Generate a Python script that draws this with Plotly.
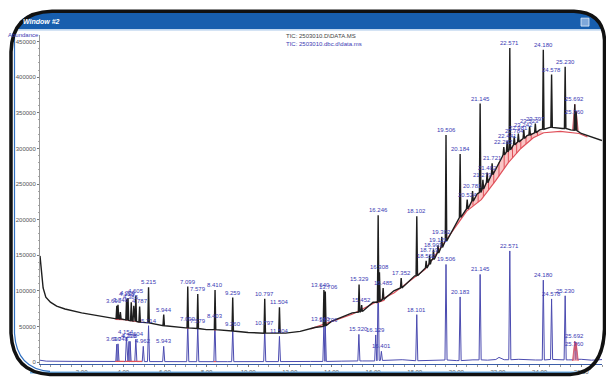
import plotly.graph_objects as go

# ---------------- figure geometry ----------------
W, H = 606, 379
ML, MR, MT, MB = 40, 4, 35, 12
PW, PH = W - ML - MR, H - MT - MB

# ---------------- axis ticks ----------------
x_ticks = [2, 4, 6, 8, 10, 12, 14, 16, 18, 20, 22, 24, 26]
x_tick_text = ["2.00", "4.00", "6.00", "8.00", "10.00", "12.00", "14.00",
               "16.00", "18.00", "20.00", "22.00", "24.00", "26.00"]
y_ticks = [0, 50000, 100000, 150000, 200000, 250000, 300000, 350000, 400000, 450000]
y_tick_text = ["0", "50000", "100000", "150000", "200000", "250000",
               "300000", "350000", "400000", "450000"]

# ---------------- TIC: 2503010.D\DATA.MS (raw) ----------------
base_time = [0.0, 0.06, 0.15, 0.28, 0.5, 0.8, 1.2, 2.0, 2.8, 3.6, 4.8, 6.0, 7.0,
             8.0, 9.0, 10.0, 11.0, 11.8, 12.5, 13.2, 14.0, 15.0, 16.0, 17.0, 18.0,
             18.8, 19.5, 20.2, 21.0, 21.6, 22.2, 22.8, 23.4, 24.0, 24.5, 25.1,
             25.5, 26.0, 26.5, 27.0]
base_abund = [149000, 128000, 104000, 91000, 84000, 78500, 74500, 69000, 64500,
              61000, 55500, 51000, 48000, 45500, 43500, 41500, 40500, 40500, 43000,
              48500, 57000, 69000, 84000, 100000, 121000, 143000, 170000, 204000,
              236000, 258000, 288000, 307000, 318000, 326000, 329500, 328000,
              326000, 321000, 316000, 311000]

peak_rt = [3.690, 3.748, 3.860, 4.158, 4.229, 4.385, 4.505, 4.605, 4.787, 5.215,
           5.944, 7.099, 7.579, 8.410, 9.259, 10.797, 11.504, 13.640, 13.706,
           15.329, 15.452, 16.246, 16.308, 16.485, 17.352, 18.102, 18.552, 18.719,
           18.903, 19.121, 19.302, 19.506, 20.184, 20.524, 20.781, 21.145, 21.279,
           21.482, 21.721, 22.282, 22.441, 22.571, 22.784, 22.981, 23.242, 23.523,
           23.797, 24.180, 24.578, 25.230, 25.692, 25.760]
peak_base = [61000, 61000, 60500, 59000, 58500, 58000, 57500, 57000, 56000, 55000,
             51000, 48000, 47000, 45500, 43500, 40500, 40500, 50000, 51000, 70000,
             71000, 84000, 85000, 88000, 104000, 121000, 132000, 137000, 144000,
             153000, 161000, 170000, 203000, 215000, 226000, 238000, 243000, 252000,
             263000, 291000, 295000, 298000, 305000, 309000, 314000, 319000, 322000,
             327000, 329500, 328000, 325500, 325000]
peak_top = [79000, 80500, 70000, 88000, 90000, 84000, 79000, 93000, 78000, 105000,
            66500, 106000, 95500, 101000, 90500, 89000, 77000, 101000, 99000, 109000,
            80000, 206000, 126000, 104000, 118000, 204600, 142000, 150000, 158000,
            164000, 176000, 319000, 292000, 228000, 240000, 363000, 256000, 266000,
            279000, 302000, 310000, 441000, 317000, 321000, 326000, 331000, 335000,
            438500, 403700, 414800, 362000, 352000]
peak_label = ["3.690", "3.748", "", "4.158", "4.229", "4.385", "", "4.605", "4.787",
              "5.215", "5.944", "7.099", "7.579", "8.410", "9.259", "10.797",
              "11.504", "13.640", "13.706", "15.329", "15.452", "16.246", "16.308",
              "16.485", "17.352", "18.102", "18.552", "18.719", "18.903", "19.121",
              "19.302", "19.506", "20.184", "20.524", "20.781", "21.145", "21.279",
              "21.482", "21.721", "22.282", "22.441", "22.571", "22.784", "22.981",
              "23.242", "23.523", "23.797", "24.180", "24.578", "25.230", "25.692",
              "25.760"]

# ---------------- TIC: 2503010.dbc.d\data.ms (background corrected) ----------------
dbc_time = [0.0, 0.3, 1.5, 3.0, 5.0, 7.0, 9.0, 11.0, 13.0, 14.5, 15.5, 16.8, 17.4,
            18.5, 19.2, 20.0, 20.8, 21.5, 21.9, 22.05, 22.3, 23.0, 23.8, 24.7,
            25.4, 26.0, 26.5, 27.0]
dbc_abund = [2500, 1200, 900, 800, 600, 500, 500, 600, 800, 1200, 1500, 2200, 3200,
             1800, 2800, 2000, 3000, 2600, 3500, 6500, 3200, 3800, 2800, 3600, 3000,
             3800, 2600, 3400]

dbc_rt = [3.690, 3.748, 4.154, 4.276, 4.328, 4.604, 4.962, 5.215, 5.943, 7.099,
          7.579, 8.403, 9.260, 10.797, 11.504, 13.640, 13.706, 15.320, 16.129,
          16.246, 16.401, 18.101, 19.506, 20.183, 21.145, 22.571, 24.180, 24.578,
          25.230, 25.692, 25.760]
dbc_top = [25000, 25500, 34500, 29000, 29000, 32000, 22000, 51000, 22000, 54000,
           50000, 57000, 47000, 47500, 36000, 54000, 52000, 38800, 38000, 120000,
           15000, 66500, 137000, 91400, 123000, 156000, 115000, 88600, 93000,
           29000, 27000]
dbc_label = ["3.690", "3.748", "4.154", "4.276", "4.328", "4.604", "4.962", "5.214",
             "5.943", "7.099", "7.579", "8.403", "9.260", "10.797", "11.504",
             "13.640", "13.706", "15.320", "16.129", "", "16.401", "18.101",
             "19.506", "20.183", "21.145", "22.571", "24.180", "24.578", "25.230",
             "25.692", "25.760"]

# ---------------- integration (red) ----------------
integ_time = [13.0, 15.0, 17.0, 18.5, 19.8, 20.5, 21.2, 21.9, 22.5, 23.1, 23.7,
              24.2, 25.0, 25.9, 26.3]
integ_abund = [46500, 67000, 97000, 130000, 183000, 212000, 228000, 255000, 280000,
               300000, 315000, 322000, 324000, 321000, 316000]

drop_rt = [20.8, 21.05, 21.3, 21.55, 21.8, 22.05, 22.3, 22.5, 22.7, 22.9, 23.1,
           23.35, 23.6, 23.9]
drop_low = [220000, 224500, 232000, 241500, 251000, 261000, 271700, 280000, 286700,
            293300, 300000, 306300, 312500, 317800]
drop_high = [228000, 237800, 247000, 256000, 268000, 280500, 291200, 297500, 303800,
             308800, 312500, 317000, 321000, 324700]

red_seg_time = [3.62, 4.05, None, 4.10, 4.88, None, 7.05, 7.15, None, 8.36, 8.46,
                None, 16.15, 16.55, None, 3.62, 4.05, None, 4.10, 4.90, None,
                8.35, 8.46]
red_seg_abund = [60000, 59500, None, 59000, 55800, None, 47600, 47400, None, 45200,
                 45000, None, 83000, 87000, None, 900, 900, None, 900, 800, None,
                 600, 600]

late_pink_time = [25.58, 25.692, 25.725, 25.760, 25.86]
late_pink_raw = [326000, 362000, 340000, 352000, 325000]
late_pink_dbc = [1500, 29000, 16000, 27000, 1500]

RAW_HW = 0.035
DBC_HW = 0.05
FILL_FROM, FILL_TO = 19.8, 24.2

# label nudges (pixels) for tightly packed peaks
LABEL_NUDGE = {"25.760": (-2, -6), "13.706": (3, 0), "13.640": (-3, 0),
               "3.748": (3, 0), "3.690": (-3, 0)}


def build_trace(bt, bv, rts, bases, tops, hw):
    """Merge the baseline points with narrow triangular peaks."""
    pts = []
    for t, v in zip(bt, bv):
        if all(abs(t - r) > hw for r in rts):
            pts.append((t, v))
    for r, b, tp in zip(rts, bases, tops):
        pts.append((r - hw, b))
        pts.append((r, tp))
        pts.append((r + hw, b))
    pts.sort(key=lambda p: p[0])
    return [p[0] for p in pts], [p[1] for p in pts]


raw_x, raw_y = build_trace(base_time, base_abund, peak_rt, peak_base, peak_top, RAW_HW)

dbc_base_at = []
for r in dbc_rt:
    near = min(range(len(dbc_time)), key=lambda i: abs(dbc_time[i] - r))
    dbc_base_at.append(dbc_abund[near])
dbc_x, dbc_y = build_trace(dbc_time, dbc_abund, dbc_rt, dbc_base_at, dbc_top, DBC_HW)

drop_x, drop_y = [], []
for r, lo, hi in zip(drop_rt, drop_low, drop_high):
    drop_x += [r, r, None]
    drop_y += [lo, hi, None]

# closed area between the raw baseline and the integration line
upper = [(t, v) for t, v in zip(base_time, base_abund) if FILL_FROM <= t <= FILL_TO]
lower = [(t, v) for t, v in zip(integ_time, integ_abund) if FILL_FROM <= t <= FILL_TO]
area_x = [p[0] for p in upper] + [p[0] for p in reversed(lower)]
area_y = [p[1] for p in upper] + [p[1] for p in reversed(lower)]

fig = go.Figure()

# background-corrected TIC (blue)
fig.add_trace(go.Scatter(x=dbc_x, y=dbc_y, mode="lines",
                         line=dict(color="#4b4bb0", width=1), hoverinfo="skip"))
fig.add_trace(go.Scatter(x=late_pink_time, y=late_pink_dbc, mode="lines", fill="toself",
                         fillcolor="rgba(240,120,130,0.55)",
                         line=dict(color="#e05060", width=0.8), hoverinfo="skip"))

# integrated area under the hump
fig.add_trace(go.Scatter(x=area_x, y=area_y, mode="lines", fill="toself",
                         fillcolor="rgba(245,150,150,0.55)", line=dict(width=0),
                         hoverinfo="skip"))
fig.add_trace(go.Scatter(x=integ_time, y=integ_abund, mode="lines",
                         line=dict(color="#e0505a", width=1.2), hoverinfo="skip"))
fig.add_trace(go.Scatter(x=drop_x, y=drop_y, mode="lines",
                         line=dict(color="#e0505a", width=1), hoverinfo="skip"))
fig.add_trace(go.Scatter(x=late_pink_time, y=late_pink_raw, mode="lines", fill="toself",
                         fillcolor="rgba(240,120,130,0.55)",
                         line=dict(color="#e05060", width=0.8), hoverinfo="skip"))
fig.add_trace(go.Scatter(x=red_seg_time, y=red_seg_abund, mode="lines",
                         line=dict(color="#e0505a", width=1.2), hoverinfo="skip",
                         connectgaps=False))

# raw TIC (black)
fig.add_trace(go.Scatter(x=raw_x, y=raw_y, mode="lines",
                         line=dict(color="#1e1e1e", width=1.4), hoverinfo="skip"))

LABEL_FONT = dict(family="Liberation Sans, Arial, sans-serif", size=6, color="#3a3ab4")
annotations = []
for rts, tops, labels in ((peak_rt, peak_top, peak_label), (dbc_rt, dbc_top, dbc_label)):
    for r, tp, lab in zip(rts, tops, labels):
        if lab:
            dx, dy = LABEL_NUDGE.get(lab, (0, 0))
            annotations.append(dict(x=r, y=tp, xref="x", yref="y", text=lab,
                                    showarrow=False, yanchor="bottom", xanchor="center",
                                    xshift=dx, yshift=dy, font=LABEL_FONT))


def px(x):
    return (x - ML) / PW


def py(y):
    return (H - MB - y) / PH


def pp(x, y):
    return f"{px(x):.5f},{py(y):.5f}"


annotations += [
    dict(x=px(321), y=py(36), xref="paper", yref="paper", text="TIC: 2503010.D\\DATA.MS",
         showarrow=False, xanchor="center", yanchor="middle",
         font=dict(family="Liberation Sans, Arial", size=6, color="#444444")),
    dict(x=px(324), y=py(44.5), xref="paper", yref="paper",
         text="TIC: 2503010.dbc.d\\data.ms", showarrow=False, xanchor="center",
         yanchor="middle", font=dict(family="Liberation Sans, Arial", size=6, color="#3a3ab4")),
    dict(x=px(41), y=py(35), xref="paper", yref="paper", text="Abundance",
         showarrow=False, xanchor="right", yanchor="middle",
         font=dict(family="Liberation Sans, Arial", size=6, color="#3a3ab4")),
    dict(x=px(21), y=py(21), xref="paper", yref="paper", text="<b><i>Window #2</i></b>",
         showarrow=False, xanchor="left", yanchor="middle",
         font=dict(family="Liberation Sans, Arial", size=7, color="#ffffff")),
]

shapes = [
    # title bar
    dict(type="path", xref="paper", yref="paper", layer="above",
         path=f"M {pp(37,12.5)} L {pp(584.6,12.5)} Q {pp(599,14)} {pp(602.4,29)} "
              f"L {pp(16.5,29)} Q {pp(19,16)} {pp(37,12.5)} Z",
         fillcolor="#175eae", line=dict(width=0)),
    dict(type="line", xref="paper", yref="paper", layer="above",
         x0=px(17), x1=px(602), y0=py(29.8), y1=py(29.8),
         line=dict(color="#a9c8ea", width=1.2)),
    dict(type="rect", xref="paper", yref="paper", layer="above",
         x0=px(581), x1=px(589), y0=py(26), y1=py(18),
         fillcolor="#7fa8da", line=dict(color="#e8f0fa", width=0.8)),
    # bottom window edge
    dict(type="line", xref="paper", yref="paper", layer="above",
         x0=px(30), x1=px(585), y0=py(375.5), y1=py(375.5),
         line=dict(color="#6aaee8", width=2)),
    # inner blue window edge on the left
    dict(type="path", xref="paper", yref="paper", layer="above",
         path=f"M {pp(14.5,30)} L {pp(14.5,336)} Q {pp(16.5,372)} {pp(50,374.5)}",
         line=dict(color="#2f6fc0", width=1.2)),
    # rounded frame
    dict(type="path", xref="paper", yref="paper", layer="above",
         path=f"M {pp(52,11)} L {pp(574,11)} Q {pp(603,12)} {pp(604.5,40)} "
              f"L {pp(604.5,332)} Q {pp(603,376)} {pp(570,377.5)} L {pp(50,377.5)} "
              f"Q {pp(13,376)} {pp(11,336)} L {pp(11,52)} Q {pp(12,12)} {pp(52,11)} Z",
         line=dict(color="#111111", width=3.5)),
]

AX_FONT = dict(family="Liberation Sans, Arial, sans-serif", size=6, color="#555555")
fig.update_layout(
    width=W, height=H,
    margin=dict(l=ML, r=MR, t=MT, b=MB),
    paper_bgcolor="#ffffff", plot_bgcolor="#ffffff",
    showlegend=False,
    annotations=annotations,
    shapes=shapes,
    xaxis=dict(range=[0, 27.0], tickvals=x_ticks, ticktext=x_tick_text,
               tickfont=AX_FONT, showgrid=False, zeroline=False,
               showline=True, linecolor="#3b5ea8", linewidth=1,
               ticks="outside", ticklen=2, tickcolor="#777777",
               minor=dict(ticks="outside", ticklen=1.5, dtick=0.5, tickcolor="#999999")),
    yaxis=dict(range=[-2800, 459300], tickvals=y_ticks, ticktext=y_tick_text,
               tickfont=AX_FONT, showgrid=False, zeroline=False,
               showline=True, linecolor="#999999", linewidth=1,
               ticks="outside", ticklen=2, tickcolor="#777777",
               minor=dict(ticks="outside", ticklen=1.5, dtick=10000, tickcolor="#aaaaaa")),
)

fig.write_html("out.html")
